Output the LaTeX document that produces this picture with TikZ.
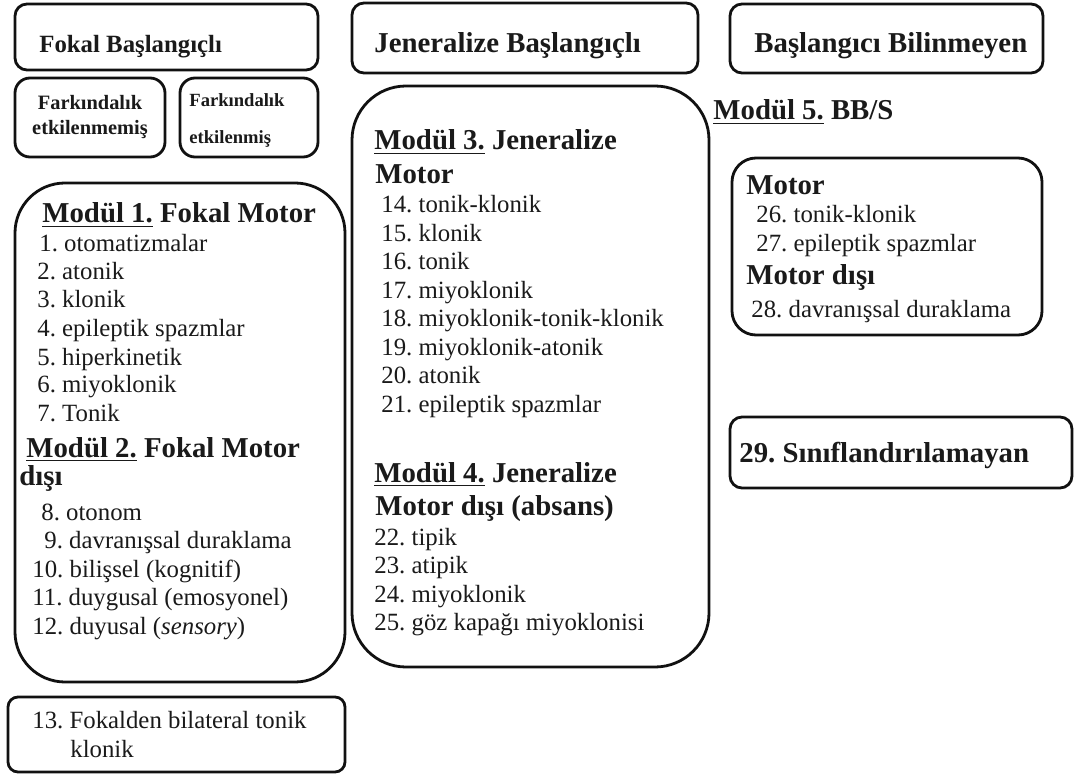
\documentclass[tikz,border=0pt]{standalone}
\usepackage{fontspec}
\setmainfont{Liberation Serif}
\frenchspacing
\usetikzlibrary{
  fit,
}
\definecolor{border}{HTML}{111111}
\definecolor{textCol}{HTML}{1A1A1A}
\tikzset{
  frame/.style={
    rectangle, draw=border, line width=1.4pt, inner sep=0pt, rounded corners=6pt,
  },
  itemtext/.style={
    anchor=base west, inner sep=0pt, text=textCol, font=\fontsize{12.4}{15}\selectfont,
  },
  headtext/.style={itemtext, font=\fontsize{14.4}{17}\selectfont\bfseries},
  toptext/.style={itemtext, font=\fontsize{12.4}{15}\selectfont\bfseries},
  awaretext/.style={itemtext, font=\fontsize{10.2}{12}\selectfont\bfseries},
}

\begin{document}
\begin{tikzpicture}[x=0.5pt, y=-0.5pt]

  % Canvas
  \fill[white] (0,0) rectangle (1074,774);
  \useasboundingbox (0,0) rectangle (1074,774);

  % Onset boxes
  \node[frame, fit={(15,4) (318,70)}] (fokal) {};
  \node[toptext] (fokalT) at (39,53) {Fokal Başlangıçlı};
  \node[frame, fit={(352,3) (698,73)}] (jen) {};
  \node[headtext] (jenT) at (374,53) {Jeneralize Başlangıçlı};
  \node[frame, fit={(730,4) (1043,73)}] (bil) {};
  \node[headtext] (bilT) at (754,53) {Başlangıcı Bilinmeyen};

  % Awareness boxes
  \node[frame, rounded corners=7.5pt, fit={(15,78) (165,157)}] (aw1) {};
  \node[awaretext, anchor=base] (aw1a) at (90,110) {Farkındalık};
  \node[awaretext, anchor=base] (aw1b) at (90,135) {etkilenmemiş};
  \node[frame, rounded corners=7.5pt, fit={(180,78) (318,157)}] (aw2) {};
  \node[awaretext, font=\fontsize{9.3}{11}\selectfont\bfseries] (aw2a) at (189,107) {Farkındalık};
  \node[awaretext, font=\fontsize{9.3}{11}\selectfont\bfseries] (aw2b) at (189,144) {etkilenmiş};

  % Modul 1 and 2
  \node[frame, rounded corners=25pt, fit={(15,183) (345,682)}] (m1box) {};
  \node[headtext] (m1T) at (42,223) {\underline{Modül 1.} Fokal Motor};
  \foreach \x/\y/\t in {39/252/1. otomatizmalar, 37/280/2. atonik, 37/308/3. klonik,
      37/337/4. epileptik spazmlar, 37/365/5. hiperkinetik, 37/393/6. miyoklonik, 37/422/7. Tonik}
    \node[itemtext] (m1-\y) at (\x,\y) {\t};
  \node[headtext] (m2T) at (26,457) {\underline{Modül 2.} Fokal Motor};
  \node[headtext] (m2U) at (19,485) {dışı};
  \foreach \x/\y/\t in {41/520/8. otonom, 44/548/9. davranışsal duraklama,
      32/577/10. bilişsel (kognitif), 32/605/11. duygusal (emosyonel),
      32/634/{12. duyusal (\textit{sensory})}}
    \node[itemtext] (m2-\y) at (\x,\y) {\t};

  % Item 13
  \node[frame, rounded corners=5pt, fit={(8,697) (345,772)}] (b13) {};
  \node[itemtext] (b13a) at (32,728) {13. Fokalden bilateral tonik};
  \node[itemtext] (b13b) at (70,757) {klonik};

  % Modul 3 and 4
  \node[frame, rounded corners=27pt, fit={(352,86) (709,667)}] (m3box) {};
  \node[headtext] (m3T) at (374,150) {\underline{Modül 3.} Jeneralize};
  \node[headtext] (m3U) at (375,184) {Motor};
  \foreach \y/\t in {213/14. tonik-klonik, 242/15. klonik, 270/16. tonik, 299/17. miyoklonik,
      327/18. miyoklonik-tonik-klonik, 356/19. miyoklonik-atonik, 384/20. atonik,
      413/21. epileptik spazmlar}
    \node[itemtext] (m3-\y) at (381,\y) {\t};
  \node[headtext] (m4T) at (374,482) {\underline{Modül 4.} Jeneralize};
  \node[headtext] (m4U) at (375,515) {Motor dışı (absans)};
  \foreach \y/\t in {545/22. tipik, 573/23. atipik, 602/24. miyoklonik, 630/25. göz kapağı miyoklonisi}
    \node[itemtext] (m4-\y) at (374,\y) {\t};

  % Modul 5
  \node[headtext] (m5T) at (713,120) {\underline{Modül 5.} BB/S};
  \node[frame, rounded corners=12pt, fit={(732,158) (1042,335)}] (m5box) {};
  \node[headtext] (m5a) at (746,195) {Motor};
  \node[itemtext] (m5-26) at (756,223) {26. tonik-klonik};
  \node[itemtext] (m5-27) at (756,252) {27. epileptik spazmlar};
  \node[headtext] (m5b) at (746,285) {Motor dışı};
  \node[itemtext] (m5-28) at (751,318) {28. davranışsal duraklama};

  % Item 29
  \node[frame, fit={(730,417) (1072,488)}] (b29) {};
  \node[headtext] (b29T) at (739,462) {29. Sınıflandırılamayan};

\end{tikzpicture}
\end{document}
